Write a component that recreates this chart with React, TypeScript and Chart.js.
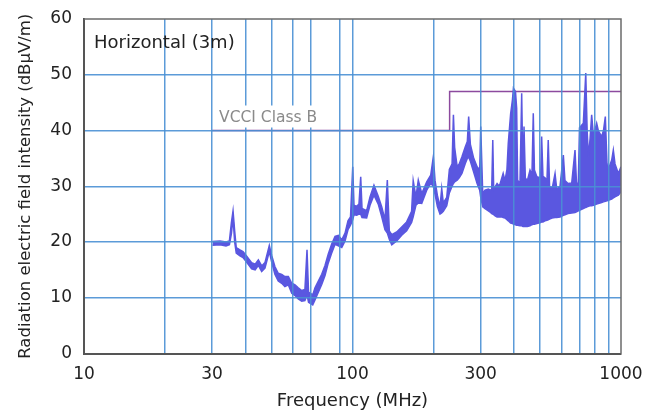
import React, { useEffect, useRef } from 'react';
import { Chart, registerables } from 'chart.js';

Chart.register(...registerables);

// Measured spectrum (MHz) with upper / lower envelope of the trace (dBμV/m)
const FREQ_MHZ = [
  30.1, 32.1, 33.8, 34.8, 35.4, 35.9, 36.4, 36.9, 38.1, 39.1,
  40.3, 42.1, 43.4, 44.6, 45.9, 47.2, 49.0, 50.0, 51.4, 52.9,
  54.5, 56.0, 57.7, 59.4, 61.1, 62.8, 64.7, 66.5, 67.7, 68.6,
  71.1, 72.5, 74.6, 76.8, 79.0, 81.2, 83.6, 86.1, 88.6, 91.2,
  93.8, 96.2, 98.3,
  100.2, 101.3, 103.7, 105.7, 107.3, 108.5, 112.9, 116.2, 120.2, 124.7,
  128.5, 132.1, 134.8, 137.1, 140.0, 146.1, 152.5, 159.1, 166.0, 168.3,
  172.3, 175.8, 181.1, 189.0, 195.6, 200.0, 203.0, 207.0, 211.8, 214.9,
  217.9, 224.4, 229.5, 234.9, 237.6, 240.1, 245.4, 249.7, 255.6, 263.1,
  267.7, 270.8, 274.8, 282.8, 291.1, 297.7, 300.3, 305.5, 311.6, 320.6,
  326.7, 330.0, 333.0, 335.6, 339.7, 345.5, 352.4, 359.8, 364.0, 369.7,
  376.0, 380.3, 388.1, 394.2, 397.5, 404.6, 408.7, 412.0, 420.5, 426.7,
  431.5, 435.3, 440.2, 447.9, 458.2, 466.0, 471.3, 476.0, 486.0, 502.0,
  506.4, 512.0, 521.1, 530.0, 535.8, 542.0, 553.5, 568.0, 576.3, 592.7,
  609.9, 618.6, 635.0, 655.4, 674.1, 682.7, 693.4, 700.5, 723.9, 739.2,
  748.0, 756.2, 767.0, 777.6, 789.5, 811.7, 822.9, 847.1, 860.5, 874.3,
  887.0, 896.9, 923.4, 936.3, 950.0, 977.6, 1000,
];
const UPPER_DB = [
  20.1, 20.2, 20.0, 20.2, 23.5, 25.6, 22.0, 19.0, 18.6, 18.3,
  17.5, 16.3, 16.0, 16.8, 15.7, 16.3, 19.4, 17.6, 15.6, 14.4,
  14.2, 13.8, 13.8, 12.6, 12.3, 11.8, 11.3, 11.5, 18.6, 11.0,
  10.5, 11.8, 13.0, 14.2, 15.8, 17.8, 19.6, 21.0, 21.2, 20.4,
  21.6, 23.8, 24.5,
  33.5, 26.6, 26.4, 26.8, 31.7, 26.0, 25.6, 28.1, 30.2, 28.2,
  26.3, 24.0, 31.1, 22.0, 21.3, 21.8, 22.7, 23.6, 25.5, 31.0,
  28.1, 31.1, 28.7, 30.8, 32.0, 35.3, 31.0, 28.4, 26.3, 29.6,
  27.0, 28.0, 33.0, 34.0, 42.8, 37.0, 33.5, 34.0, 35.3, 37.1,
  38.0, 42.5, 37.5, 35.0, 33.5, 32.9, 40.7, 28.7, 29.3, 29.5,
  29.3, 29.5, 38.3, 29.5, 29.9, 30.5, 30.0, 31.5, 32.3, 31.0,
  33.0, 37.7, 43.0, 45.5, 47.6, 47.0, 44.0, 31.1, 30.5, 46.7,
  31.1, 40.7, 31.5, 31.0, 32.9, 32.0, 43.1, 32.9, 31.7, 31.5,
  38.9, 31.8, 31.5, 31.0, 38.3, 30.0, 29.5, 32.3, 29.5, 30.0,
  35.6, 31.0, 30.5, 30.6, 36.5, 30.6, 30.5, 40.5, 41.3, 50.3,
  40.0, 35.3, 38.5, 42.8, 39.0, 41.3, 40.0, 38.9, 40.0, 42.5,
  34.0, 33.0, 34.7, 36.5, 34.0, 32.3, 33.5,
];
const LOWER_DB = [
  19.4, 19.5, 19.3, 19.5, 21.5, 24.3, 20.0, 18.0, 17.5, 17.2,
  16.4, 15.2, 15.0, 15.8, 14.7, 15.3, 18.3, 16.4, 14.2, 13.0,
  12.6, 12.0, 12.3, 10.8, 10.4, 9.8, 9.4, 9.5, 10.5, 9.2,
  8.7, 9.6, 11.0, 12.4, 14.0, 16.2, 18.0, 19.6, 19.3, 19.0,
  20.2, 22.2, 23.0,
  24.0, 24.9, 24.8, 25.0, 25.0, 24.4, 24.3, 26.6, 28.4, 26.8,
  24.5, 22.2, 21.6, 20.5, 19.5, 20.2, 21.2, 22.0, 23.5, 24.5,
  26.6, 27.0, 26.9, 29.3, 30.5, 30.0, 28.5, 26.4, 25.0, 25.2,
  25.5, 26.5, 28.8, 30.0, 30.5, 30.8, 31.1, 31.5, 32.3, 34.1,
  35.0, 35.2, 34.5, 32.5, 30.5, 29.3, 28.0, 26.3, 26.0, 25.6,
  25.3, 25.1, 25.0, 24.9, 24.7, 24.5, 24.5, 24.5, 24.4, 24.3,
  24.0, 23.8, 23.4, 23.3, 23.2, 23.1, 23.0, 23.0, 22.9, 22.9,
  22.8, 22.8, 22.8, 22.8, 22.9, 23.1, 23.2, 23.2, 23.3, 23.5,
  23.6, 23.6, 23.8, 23.9, 24.0, 24.1, 24.3, 24.4, 24.4, 24.5,
  24.8, 24.9, 25.1, 25.2, 25.3, 25.4, 25.6, 25.7, 26.0, 26.2,
  26.3, 26.4, 26.5, 26.5, 26.6, 26.8, 26.9, 27.1, 27.2, 27.3,
  27.4, 27.5, 27.7, 27.9, 28.1, 28.4, 29.0,
];

// VCCI Class B limit
const LIMIT_FREQ = [30, 230, 230, 1000];
const LIMIT_DB = [40, 40, 47, 47];

const X_GRID = [10, 20, 30, 40, 50, 60, 70, 90, 100, 200, 300, 400, 500, 600, 700, 800, 900, 1000];
const X_LABELS = [10, 30, 100, 300, 1000];
const Y_TICKS = [0, 10, 20, 30, 40, 50, 60];

const FONT = "'DejaVu Sans', sans-serif";
const TRACE = '#5a57e0';
const LIMIT = '#8c4a9e';
const GRID = 'rgba(74,144,212,0.9)';
const CLEAR = 'rgba(0,0,0,0)';

const overlayPlugin = {
  id: 'overlay',
  afterDraw(chart: any) {
    const { ctx, chartArea } = chart;
    const { left, top, right, bottom } = chartArea;
    const xs = chart.scales.x;
    const ys = chart.scales.y;
    ctx.save();
    // top and right frame
    ctx.strokeStyle = '#6b6b6b';
    ctx.lineWidth = 1.5;
    ctx.beginPath();
    ctx.moveTo(left, top);
    ctx.lineTo(right, top);
    ctx.lineTo(right, bottom);
    ctx.stroke();

    // VCCI label with white background
    ctx.font = `15.5px ${FONT}`;
    const label = 'VCCI Class B';
    const w = ctx.measureText(label).width;
    const lx = xs.getPixelForValue(30) + 7;
    const ly = ys.getPixelForValue(40) - 13;
    ctx.fillStyle = '#ffffff';
    ctx.fillRect(lx - 5, ly - 12, w + 8, 22);
    ctx.fillStyle = '#8a8a8a';
    ctx.textBaseline = 'middle';
    ctx.textAlign = 'left';
    ctx.fillText(label, lx, ly);

    // Panel caption
    ctx.font = `18px ${FONT}`;
    ctx.fillStyle = '#222222';
    ctx.fillText('Horizontal (3m)', left + 10, top + 24);
    ctx.restore();
  },
};

export default function App() {
  const ref = useRef<HTMLCanvasElement>(null);

  useEffect(() => {
    const canvas = ref.current;
    if (!canvas) return;
    const pts = (ys: number[]) => FREQ_MHZ.map((f, i) => ({ x: f, y: ys[i] }));
    const chart = new Chart(canvas, {
      type: 'line',
      data: {
        datasets: [
          {
            data: pts(LOWER_DB),
            borderColor: TRACE,
            borderWidth: 1.5,
            pointRadius: 0,
            fill: false,
            tension: 0,
          },
          {
            data: pts(UPPER_DB),
            borderColor: TRACE,
            backgroundColor: TRACE,
            borderWidth: 1.5,
            pointRadius: 0,
            fill: '-1',
            tension: 0,
          },
          {
            data: LIMIT_FREQ.map((f, i) => ({ x: f, y: LIMIT_DB[i] })),
            borderColor: LIMIT,
            borderWidth: 1.5,
            pointRadius: 0,
            fill: false,
            tension: 0,
          },
        ],
      },
      options: {
        animation: false,
        responsive: false,
        layout: { padding: { top: 19, right: 38, left: 0, bottom: 0 } },
        plugins: { legend: { display: false }, tooltip: { enabled: false } },
        scales: {
          x: {
            type: 'logarithmic',
            min: 10,
            max: 1000,
            position: 'bottom',
            afterBuildTicks: (s: any) => {
              s.ticks = X_GRID.map((v) => ({ value: v }));
            },
            afterFit: (s: any) => {
              s.height = 58.5;
              s.paddingLeft = 0;
              s.paddingRight = 0;
            },
            ticks: {
              autoSkip: false,
              maxRotation: 0,
              minRotation: 0,
              padding: 0,
              z: 1,
              color: '#222222',
              font: { family: FONT, size: 17 },
              callback: (v: any) => (X_LABELS.includes(Number(v)) ? String(v) : ''),
            },
            grid: {
              z: 1,
              lineWidth: 1.5,
              color: (c: any) => (c.tick && (c.tick.value === 10 || c.tick.value === 1000) ? CLEAR : GRID),
              drawTicks: true,
              tickLength: 11,
              tickColor: CLEAR,
            },
            border: { display: true, color: '#555555', width: 2, z: 1 },
            title: {
              display: true,
              text: 'Frequency (MHz)',
              color: '#222222',
              font: { family: FONT, size: 18 },
              padding: { top: 0, bottom: 0 },
            },
          },
          y: {
            type: 'linear',
            min: 0,
            max: 60,
            afterBuildTicks: (s: any) => {
              s.ticks = Y_TICKS.map((v) => ({ value: v }));
            },
            afterFit: (s: any) => {
              s.width = 84;
              s.paddingTop = 0;
              s.paddingBottom = 0;
            },
            ticks: {
              padding: 0,
              z: 1,
              color: '#222222',
              font: { family: FONT, size: 17 },
            },
            grid: {
              z: 1,
              lineWidth: 1.5,
              color: (c: any) => (c.tick && (c.tick.value === 0 || c.tick.value === 60) ? CLEAR : GRID),
              drawTicks: true,
              tickLength: 12,
              tickColor: CLEAR,
            },
            border: { display: true, color: '#555555', width: 2, z: 1 },
            title: {
              display: true,
              text: 'Radiation electric field intensity (dBμV/m)',
              color: '#222222',
              font: { family: FONT, size: 16.5 },
              padding: { top: 16, bottom: 0 },
            },
          },
        },
      },
      plugins: [overlayPlugin],
    } as any);
    return () => chart.destroy();
  }, []);

  return (
    <div style={{ position: 'fixed', left: 0, top: 0, width: 659, height: 412, background: '#ffffff' }}>
      <canvas ref={ref} width={659} height={412} style={{ display: 'block', width: 659, height: 412 }} />
    </div>
  );
}
